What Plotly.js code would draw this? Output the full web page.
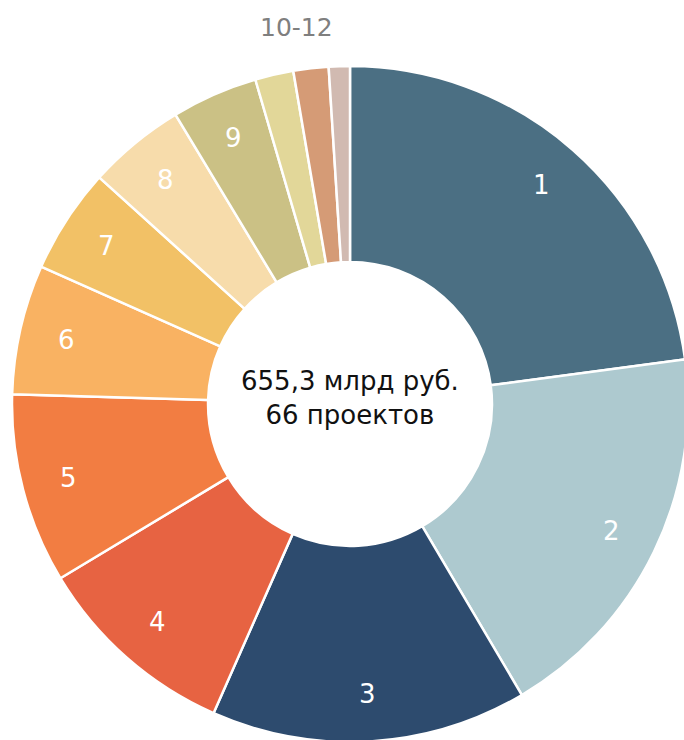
<!DOCTYPE html>
<html>
<head>
<meta charset="utf-8">
<script src="https://cdn.plot.ly/plotly-3.0.1.min.js"></script>
<style>
html, body { margin: 0; padding: 0; overflow: hidden; background: #ffffff; }
#wrap { width: 684px; height: 740px; overflow: hidden; position: relative; }
#chart { width: 700px; height: 750px; }
</style>
</head>
<body>
<div id="wrap"><div id="chart"></div></div>
<script>
// Data (billion rubles; total 655.3)
var categories = ["1", "2", "3", "4", "5", "6", "7", "8", "9", "10", "11", "12"];
var values = [150, 122, 99, 64, 59.5, 40.6, 33, 30.6, 27, 12, 11, 6.6];
var sliceLabels = ["1", "2", "3", "4", "5", "6", "7", "8", "9", "", "", ""];
var groupLabel = "10-12";
var groupIndices = [9, 10, 11];
var centerLines = ["655,3 млрд руб.", "66 проектов"];
var colors = ["#4b6f83", "#adc9cf", "#2d4b6e", "#e76342", "#f27d42", "#f9b262",
              "#f2c166", "#f7dcab", "#cbc185", "#e2d799", "#d59b76", "#d1bab1"];

// Layout geometry
var W = 700, H = 750;
var CX = 350, CY = 404, R = 338;
var FONT = "'DejaVu Sans', sans-serif";

var total = values.reduce(function (a, b) { return a + b; }, 0);
var cum = [];
var acc = 0;
values.forEach(function (v) { cum.push(acc); acc += v; });

function polar(frac, rad) {
  var a = frac * 2 * Math.PI;
  return { x: (CX + rad * Math.sin(a)) / W, y: 1 - (CY - rad * Math.cos(a)) / H };
}

var annotations = [];
sliceLabels.forEach(function (lab, i) {
  if (!lab) return;
  var p = polar((cum[i] + values[i] / 2) / total, 0.86 * R);
  annotations.push({
    x: p.x, y: p.y, xref: "paper", yref: "paper", text: lab, showarrow: false,
    xanchor: "center", yanchor: "middle",
    font: { family: FONT, size: 26, color: "#ffffff" }
  });
});
var gStart = cum[groupIndices[0]];
var gEnd = cum[groupIndices[groupIndices.length - 1]] + values[groupIndices[groupIndices.length - 1]];
var gp = polar((gStart + gEnd) / 2 / total, 1.125 * R);
annotations.push({
  x: gp.x, y: gp.y, xref: "paper", yref: "paper", text: groupLabel, showarrow: false,
  xanchor: "center", yanchor: "middle",
  font: { family: FONT, size: 25, color: "#7f7f7f" }
});
annotations.push({
  x: CX / W, y: 1 - (CY - 6) / H, xref: "paper", yref: "paper",
  text: centerLines.join("<br>"), showarrow: false,
  xanchor: "center", yanchor: "middle",
  font: { family: FONT, size: 26, color: "#111111" }
});

var trace = {
  type: "pie",
  labels: categories,
  values: values,
  sort: false,
  direction: "clockwise",
  rotation: 0,
  hole: 0.42,
  textinfo: "none",
  hoverinfo: "label+value+percent",
  marker: { colors: colors, line: { color: "#ffffff", width: 2.5 } },
  domain: { x: [(CX - R) / W, (CX + R) / W], y: [1 - (CY + R) / H, 1 - (CY - R) / H] },
  showlegend: false
};

var layout = {
  width: W, height: H,
  margin: { l: 0, r: 0, t: 0, b: 0, pad: 0 },
  paper_bgcolor: "#ffffff",
  plot_bgcolor: "#ffffff",
  showlegend: false,
  annotations: annotations
};

Plotly.newPlot("chart", [trace], layout, { displayModeBar: false, staticPlot: true });
</script>
</body>
</html>
